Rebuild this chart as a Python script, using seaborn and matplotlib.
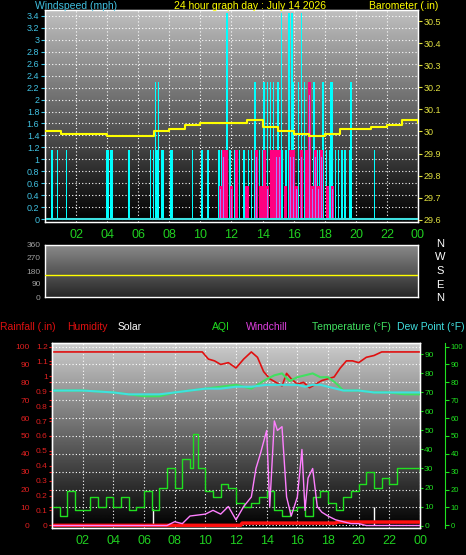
import numpy as np
import pandas as pd
import seaborn as sns
import matplotlib
matplotlib.use("Agg")
import matplotlib.pyplot as plt

sns.set_style("dark")
plt.rcParams['font.family'] = ['Liberation Sans', 'DejaVu Sans']

hour_ticks = [2, 4, 6, 8, 10, 12, 14, 16, 18, 20, 22, 24]
hour_labels = ["02", "04", "06", "08", "10", "12", "14", "16", "18", "20", "22", "00"]

# wind
wind_t = [0.45, 0.8, 1.4, 4.0, 4.1, 4.2, 4.3, 5.4, 6.8, 7.0, 7.1, 7.2, 7.3, 7.5, 7.6, 8.1, 8.2, 9.5, 10.1, 10.5,
          11.2, 11.4, 11.6, 11.7, 11.9, 12.2, 12.5, 12.8, 13.1, 13.3, 13.5, 13.6, 13.8, 14.0, 14.1, 14.3, 14.5, 14.7,
          14.8, 15.0, 15.2, 15.3, 15.5, 15.7, 15.9, 16.0, 16.3, 16.5, 16.7, 16.8, 17.1, 17.3, 17.5, 17.7, 17.9,
          18.1, 18.3, 18.4, 18.5, 18.7, 18.9, 19.1, 19.3, 19.6, 19.7, 21.2]
wind_v = [1.15, 1.15, 1.15, 1.15, 1.15, 1.15, 1.15, 1.15, 1.15, 1.15, 2.3, 1.15, 2.3, 1.15, 1.15, 1.15, 1.15, 1.15, 1.15, 1.15,
          1.15, 1.15, 1.15, 3.45, 1.15, 1.15, 1.15, 1.15, 1.15, 1.15, 2.3, 1.15, 1.15, 1.15, 2.3, 2.3, 2.3, 2.3,
          1.15, 2.3, 3.45, 1.15, 1.15, 3.45, 3.45, 2.3, 2.3, 3.45, 2.3, 1.15, 2.3, 2.3, 1.15, 1.15, 2.3,
          1.15, 1.15, 2.3, 2.3, 1.15, 1.15, 1.15, 1.15, 1.15, 2.3, 1.15]
gust_t = [11.3, 11.5, 11.7, 12.0, 12.3, 13.0, 13.6, 13.9, 14.1, 14.3, 14.6, 14.8, 14.9, 15.0, 15.1, 15.5, 15.8,
          16.0, 16.2, 16.5, 16.8, 17.0, 17.2, 17.4, 17.6, 17.8, 18.2, 18.5]
gust_v = [0.55, 1.15, 1.15, 0.55, 1.15, 0.55, 1.15, 0.55, 1.15, 0.55, 1.15, 1.15, 1.15, 1.15, 1.15, 0.55, 1.15,
          1.15, 0.55, 1.15, 1.15, 2.3, 0.55, 1.15, 0.55, 1.15, 0.55, 0.55]

baro_t = list(range(25))
baro_v = [30.00, 29.99, 29.99, 29.99, 29.98, 29.98, 29.98, 30.00, 30.01, 30.03, 30.04, 30.04, 30.04, 30.05,
          30.02, 30.00, 29.99, 29.98, 29.99, 30.01, 30.01, 30.02, 30.03, 30.05, 30.04]

wdir_t = [0, 24]
wdir_v = [150, 150]

hum_t = [0, 9.8, 10.2, 10.6, 11.0, 11.5, 12.0, 12.5, 13.0, 13.4, 13.8, 14.2, 14.6, 15.0, 15.3, 15.6, 16.0, 16.4,
         16.8, 17.2, 17.6, 18.0, 18.4, 18.8, 19.2, 19.6, 20.0, 20.5, 21.0, 21.5, 24]
hum_v = [97, 97, 93, 92, 90, 91, 88, 93, 97, 94, 86, 82, 80, 78, 85, 82, 79, 80, 77, 79, 81, 82, 83, 88, 92, 92,
         91, 94, 95, 97, 97]

temp_t = [0, 2, 4, 5, 6, 7, 8, 9, 10, 11, 12, 13, 14, 14.5, 15, 15.5, 16, 16.5, 17, 17.5, 18, 18.5, 19, 20, 21, 22, 23, 24]
temp_v = [71, 71, 70, 69, 68, 68, 70, 71, 72, 73, 74, 72, 77, 79, 80, 76, 78, 79, 80, 78, 78, 75, 71, 71, 70, 70, 69, 69]
dew_v = [71, 71, 70, 69, 69, 69, 70, 71, 72, 72, 73, 73, 74, 74, 74, 74, 74, 73, 74, 74, 73, 72, 71, 71, 70, 70, 70, 70]

aqi_t = [0, 0.5, 1, 1.5, 2, 2.5, 3, 3.5, 4, 4.5, 5, 5.5, 6, 6.5, 7, 7.5, 8, 8.5, 9, 9.2, 9.5, 10, 10.5, 11, 11.5,
         12, 12.5, 13, 13.5, 14, 14.5, 15, 15.5, 16, 16.5, 17, 17.5, 18, 18.5, 19, 19.5, 20, 20.5, 21, 21.5, 22,
         22.5, 23, 23.5, 24]
aqi_v = [10, 5, 18, 8, 8, 15, 10, 15, 10, 15, 8, 10, 18, 8, 20, 30, 20, 35, 30, 48, 30, 18, 15, 22, 20, 12, 10, 12,
         15, 18, 8, 5, 8, 10, 5, 15, 18, 12, 8, 15, 18, 22, 28, 20, 25, 22, 30, 30, 30, 28]

wc_t = [0, 7.5, 8.0, 8.5, 9.0, 10.0, 10.5, 11.0, 11.5, 12.0, 12.5, 13.0, 13.3, 13.6, 14.0, 14.2, 14.5, 14.7, 15.0,
        15.3, 15.6, 16.0, 16.3, 16.5, 16.7, 17.0, 17.3, 17.6, 18.0, 18.5, 19.0, 19.5, 20.0, 20.5, 24]
wc_v = [0, 0, 2, 1, 5, 6, 8, 6, 10, 3, 10, 15, 30, 38, 50, 10, 55, 50, 52, 15, 5, 15, 40, 8, 25, 30, 10, 7, 5, 3,
        2, 1, 1, 0, 0]

rain_t = [0, 12.3, 12.4, 18.5, 18.6, 24]
rain_v = [0.0, 0.0, 0.015, 0.015, 0.022, 0.022]

solar_t = [6.6, 21.0]
solar_v = [9, 10]

W, H = 466, 555
fig = plt.figure(figsize=(W / 100, H / 100), dpi=100, facecolor="black")


def ax_px(x0, y0, x1, y1):
    return fig.add_axes([x0 / W, 1 - y1 / H, (x1 - x0) / W, (y1 - y0) / H])


def gradient(ax, top, bottom):
    g = np.linspace(top, bottom, 256).reshape(-1, 1)
    ax.imshow(g, cmap="gray", vmin=0, vmax=1, aspect="auto", extent=[0, 1, 0, 1],
              transform=ax.transAxes, zorder=0)


def style(ax):
    ax.set_facecolor("black")
    for s in ax.spines.values():
        s.set_color("white")
        s.set_linewidth(1)
    ax.grid(True, color="white", linestyle=(0, (1, 2)), linewidth=0.8)
    ax.set_axisbelow(False)


FS = 7.5

# ---------- top panel
ax1 = ax_px(45, 10, 418, 222)
gradient(ax1, 0.75, 0.0)
style(ax1)
ax1.set_xlim(0, 24)
ax1.set_ylim(-0.05, 3.5)
ax1.bar(wind_t, wind_v, width=0.09, color="#00ffff", edgecolor="none", linewidth=0, zorder=3)
ax1.bar(gust_t, gust_v, width=0.2, color="#ff0080", edgecolor="none", linewidth=0, zorder=4)
ax1.bar(gust_t, [v * 0.9 for v in gust_v], width=0.04, color="#a080ff", edgecolor="none", linewidth=0, zorder=5)
ax1.axhline(0, color="#40e0e0", lw=1.5, zorder=5)
ax1.set_yticks([0, 0.2, 0.4, 0.6, 0.8, 1, 1.2, 1.4, 1.6, 1.8, 2, 2.2, 2.4, 2.6, 2.8, 3, 3.2, 3.4])
ax1.set_yticklabels(["0", "0.2", "0.4", "0.6", "0.8", "1", "1.2", "1.4", "1.6", "1.8", "2", "2.2", "2.4",
                     "2.6", "2.8", "3", "3.2", "3.4"])
ax1.tick_params(axis="y", colors="#40c0e0", labelsize=6.5, length=3, pad=1)
ax1.set_xticks(hour_ticks)
ax1.set_xticklabels(hour_labels)
ax1.tick_params(axis="x", colors="#20d020", labelsize=9, length=3, pad=2)
ax1b = ax1.twinx()
ax1b.set_ylim(29.59, 30.55)
sns.lineplot(x=baro_t, y=baro_v, ax=ax1b, color="yellow", lw=1.5, drawstyle="steps-post", zorder=6)
ax1b.set_yticks([29.6, 29.7, 29.8, 29.9, 30.0, 30.1, 30.2, 30.3, 30.4, 30.5])
ax1b.set_yticklabels(["29.6", "29.7", "29.8", "29.9", "30", "30.1", "30.2", "30.3", "30.4", "30.5"])
ax1b.tick_params(axis="y", colors="#e0e040", labelsize=6.5, length=3, pad=1)
ax1b.set_ylabel("")
ax1b.grid(False)
fig.text(35 / W, 1 - 6 / H, "Windspeed (mph)", color="#40c0e0", fontsize=FS, va="center")
fig.text(250 / W, 1 - 6 / H, "24 hour graph day : July 14 2026", color="yellow", fontsize=FS, va="center", ha="center")
fig.text(438 / W, 1 - 6 / H, "Barometer (.in)", color="yellow", fontsize=FS, va="center", ha="right")

# ---------- middle panel
ax2 = ax_px(45, 245, 418, 297)
gradient(ax2, 0.55, 0.15)
style(ax2)
ax2.set_xlim(0, 24)
ax2.set_ylim(0, 360)
sns.lineplot(x=wdir_t, y=wdir_v, ax=ax2, color="yellow", lw=1, zorder=5)
ax2.set_yticks([0, 90, 180, 270, 360])
ax2.set_yticklabels(["0", "90", "180", "270", "360"])
ax2.tick_params(axis="y", colors="#a0a0a0", labelsize=6, length=2, pad=1)
ax2.set_xticks(hour_ticks)
ax2.set_xticklabels([])
ax2.tick_params(axis="x", length=0)
ax2.grid(False)
for i, lab in enumerate(["N", "W", "S", "E", "N"]):
    fig.text(440 / W, 1 - (244 + i * 13.5) / H, lab, color="white", fontsize=8, va="center", ha="center")

# ---------- bottom panel
ax3 = ax_px(52, 343, 420, 528)
gradient(ax3, 0.8, 0.0)
style(ax3)
ax3.set_xlim(0, 24)
ax3.set_ylim(-1.5, 102)
ax3.set_xticks(hour_ticks)
ax3.set_xticklabels(hour_labels)
ax3.tick_params(axis="x", colors="#20d020", labelsize=9, length=3, pad=2)
ax3.set_yticks([0, 10, 20, 30, 40, 50, 60, 70, 80, 90, 100])
ax3.set_yticklabels(["0", "10", "20", "30", "40", "50", "60", "70", "80", "90", "100"])
ax3.tick_params(axis="y", colors="#e02020", labelsize=6, length=2, pad=14)
sns.lineplot(x=hum_t, y=hum_v, ax=ax3, color="#e01010", lw=1.2, zorder=5)
for x, v in zip(solar_t, solar_v):
    ax3.vlines(x, 0, v, color="white", lw=1, zorder=4)

ax3r = ax3.twinx()
ax3r.set_ylim(-0.018, 1.224)
sns.lineplot(x=rain_t, y=rain_v, ax=ax3r, color="#ff1010", lw=2.5, zorder=5)
ax3r.yaxis.set_ticks_position("left")
ax3r.set_yticks([0, 0.1, 0.2, 0.3, 0.4, 0.5, 0.6, 0.7, 0.8, 0.9, 1, 1.1, 1.2])
ax3r.set_yticklabels(["0", "0.1", "0.2", "0.3", "0.4", "0.5", "0.6", "0.7", "0.8", "0.9", "1", "1.1", "1.2"])
ax3r.tick_params(axis="y", colors="#e02020", labelsize=6, length=2, pad=1)
ax3r.set_ylabel("")
ax3r.grid(False)

ax3t = ax3.twinx()
ax3t.set_ylim(-1.3, 96)
sns.lineplot(x=aqi_t, y=aqi_v, ax=ax3t, color="#20e020", lw=1, drawstyle="steps-post", zorder=5)
sns.lineplot(x=wc_t, y=wc_v, ax=ax3t, color="#ff80ff", lw=1, zorder=6)
sns.lineplot(x=temp_t, y=temp_v, ax=ax3t, color="#40e060", lw=1.5, zorder=6)
sns.lineplot(x=temp_t, y=dew_v, ax=ax3t, color="#40e0e0", lw=1.5, zorder=6)
ax3t.set_yticks([0, 10, 20, 30, 40, 50, 60, 70, 80, 90])
ax3t.set_yticklabels(["0", "10", "20", "30", "40", "50", "60", "70", "80", "90"])
ax3t.tick_params(axis="y", colors="#20e020", labelsize=6, length=2, pad=1)
ax3t.set_ylabel("")
ax3t.grid(False)

ax3a = ax3.twinx()
ax3a.spines["right"].set_position(("outward", 18))
ax3a.spines["right"].set_color("#20e020")
ax3a.set_ylim(-1.5, 102)
ax3a.set_yticks([0, 10, 20, 30, 40, 50, 60, 70, 80, 90, 100])
ax3a.set_yticklabels(["0", "10", "20", "30", "40", "50", "60", "70", "80", "90", "100"])
ax3a.tick_params(axis="y", colors="#20e020", labelsize=5.5, length=3, pad=1)
ax3a.grid(False)

ty = 1 - 327 / H
fig.text(0, ty, "Rainfall (.in)", color="#e01010", fontsize=FS, va="center")
fig.text(67 / W, ty, "Humidity", color="#e01010", fontsize=FS, va="center")
fig.text(118 / W, ty, "Solar", color="white", fontsize=FS, va="center")
fig.text(212 / W, ty, "AQI", color="#20e020", fontsize=FS, va="center")
fig.text(246 / W, ty, "Windchill", color="#e040e0", fontsize=FS, va="center")
fig.text(312 / W, ty, "Temperature (°F)", color="#40e060", fontsize=FS, va="center")
fig.text(465 / W, ty, "Dew Point (°F)", color="#40e0e0", fontsize=FS, va="center", ha="right")

fig.savefig("out.png", dpi=100, facecolor="black")
